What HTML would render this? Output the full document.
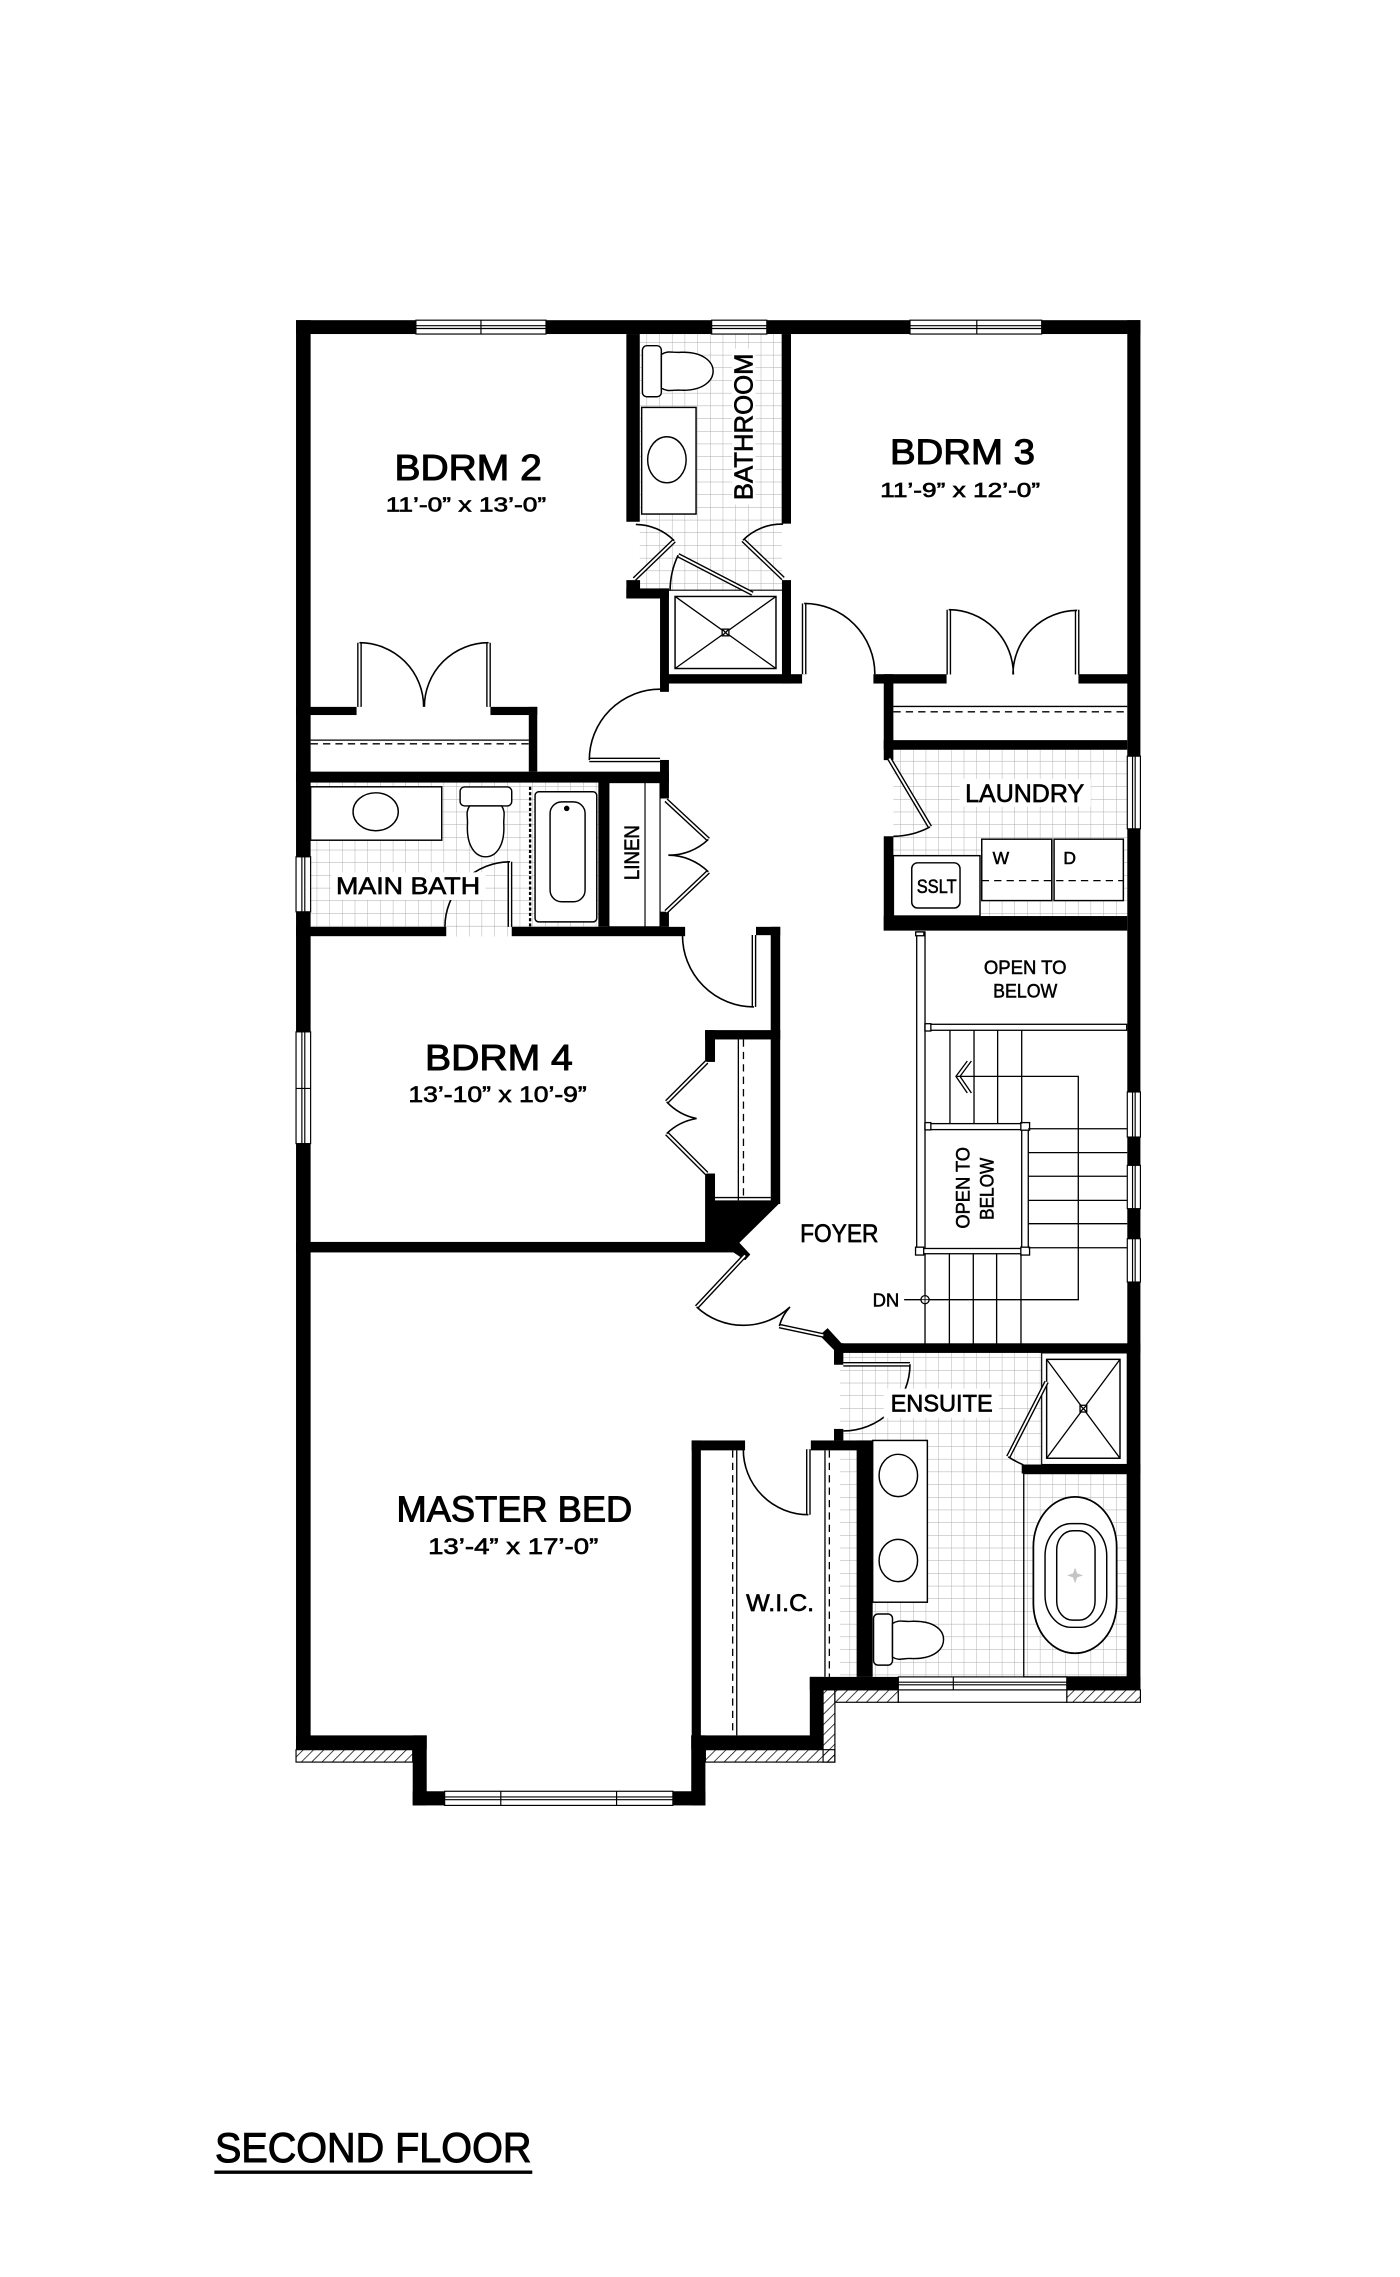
<!DOCTYPE html>
<html>
<head>
<meta charset="utf-8">
<style>
html,body{margin:0;padding:0;background:#fff;}
svg{display:block;}
text{font-family:"Liberation Sans","DejaVu Sans",sans-serif;fill:#000;stroke:#000;stroke-width:0.35;}
text.big{stroke-width:0.7;}
text.mid{stroke-width:0.45;}
</style>
</head>
<body>
<svg xmlns="http://www.w3.org/2000/svg" width="1400" height="2277" viewBox="0 0 960 1561" preserveAspectRatio="none">
<defs>
  <pattern id="tile" patternUnits="userSpaceOnUse" width="8.7" height="8.7">
    <path d="M8.7 0V8.7M0 8.7H8.7" stroke="#a9a9a9" stroke-width="0.6" fill="none"/>
  </pattern>
  <pattern id="hatch" patternUnits="userSpaceOnUse" width="5" height="5" patternTransform="rotate(45)">
    <line x1="0" y1="0" x2="0" y2="5" stroke="#000" stroke-width="1"/>
  </pattern>
</defs>
<rect width="960" height="1561" fill="#fff"/>

<!-- ===== TILE FLOORS ===== -->
<rect x="438.7" y="229" width="97.5" height="176" fill="url(#tile)"/>
<rect x="213" y="536.5" width="197.3" height="99" fill="url(#tile)"/>
<rect x="306" y="635" width="45" height="7" fill="url(#tile)"/>
<rect x="612.6" y="514" width="160.4" height="114" fill="url(#tile)"/>
<rect x="576" y="927" width="197" height="223" fill="url(#tile)"/>

<!-- ===== HATCH STRIPS ===== -->
<g stroke="#000" stroke-width="0.8">
  <rect x="203" y="1199.5" width="80" height="8.5" fill="url(#hatch)"/>
  <rect x="483.7" y="1199.5" width="88.8" height="8.5" fill="url(#hatch)"/>
  <rect x="564.4" y="1158.5" width="8.1" height="49.5" fill="url(#hatch)"/>
  <rect x="572.5" y="1158.5" width="43.5" height="8.5" fill="url(#hatch)"/>
  <rect x="731.5" y="1158.5" width="50.5" height="8.5" fill="url(#hatch)"/>
  <rect x="616" y="1158.5" width="115.5" height="8.5" fill="#fff"/>
</g>

<!-- ===== WALLS ===== -->
<g fill="#000">
  <rect x="203" y="219.5" width="579" height="9.5"/>
  <rect x="203" y="219.5" width="10" height="980"/>
  <rect x="773" y="219.5" width="9" height="939"/>
  <rect x="203" y="1189.7" width="89.6" height="9.8"/>
  <rect x="283" y="1189.7" width="9.6" height="48"/>
  <rect x="283" y="1228" width="200.7" height="9.7"/>
  <rect x="474" y="1189.7" width="9.7" height="48"/>
  <rect x="474" y="1189.7" width="90.4" height="9.8"/>
  <rect x="555.3" y="1149.6" width="9.1" height="50"/>
  <rect x="555.3" y="1149.6" width="226.7" height="8.9"/>

  <rect x="429.5" y="229" width="9.2" height="128.7"/>
  <rect x="536" y="229" width="6.4" height="130"/>
  <rect x="429.5" y="397.7" width="9.4" height="12.6"/>
  <rect x="429.5" y="403.4" width="29.2" height="6.9"/>
  <rect x="452.6" y="403.4" width="6.1" height="70.9"/>
  <rect x="536.2" y="397.7" width="6.2" height="70.9"/>
  <rect x="452.6" y="462.2" width="97.4" height="6.4"/>
  <rect x="598.9" y="462.2" width="50.2" height="6.4"/>
  <rect x="739.5" y="462.2" width="34" height="6.4"/>
  <rect x="606" y="462.2" width="6.6" height="58.9"/>
  <rect x="606" y="507.4" width="167" height="6.6"/>
  <rect x="606" y="573.3" width="6.6" height="64.6"/>
  <rect x="606" y="628" width="167" height="10"/>

  <rect x="203" y="484.6" width="41.5" height="5.6"/>
  <rect x="336.3" y="484.6" width="32.1" height="5.6"/>
  <rect x="362.6" y="484.6" width="5.8" height="44.4"/>
  <rect x="203" y="529" width="255.7" height="7.5"/>
  <rect x="452.6" y="521" width="6.1" height="26.4"/>
  <rect x="410.3" y="536" width="7.2" height="99.4"/>
  <rect x="452.6" y="625" width="6.1" height="10.4"/>
  <rect x="203" y="635.4" width="103" height="6.4"/>
  <rect x="350.9" y="635.4" width="118.9" height="6.4"/>

  <rect x="518.4" y="635.4" width="16.6" height="5.7"/>
  <rect x="528.5" y="635.4" width="6.5" height="190"/>
  <rect x="483.5" y="706.2" width="51.5" height="6.4"/>
  <rect x="483.5" y="706.2" width="6.8" height="21.8"/>
  <rect x="483.5" y="804.5" width="6.8" height="18.5"/>
  <polygon points="483.5,822.9 534.9,822.9 534.9,824.5 507,852 514.5,860 511,864 502.5,858.3 483.5,858.3"/>
  <rect x="203" y="851.4" width="304" height="7.2"/>

  <polygon points="562,915.5 567.5,910.5 577,920.9 578.3,920.9 578.3,935.6 571.9,935.6 571.9,925.5"/>
  <rect x="572" y="920.9" width="210" height="6.6"/>
  <rect x="571.9" y="979.6" width="6.4" height="7.9"/>
  <rect x="474.3" y="987.5" width="36.6" height="6.8"/>
  <rect x="556" y="987.5" width="42.4" height="6.8"/>
  <rect x="474.3" y="987.5" width="6.3" height="212"/>
  <rect x="587.4" y="987.5" width="11" height="162.1"/>
  <rect x="700.6" y="1004" width="81.4" height="6.2"/>
</g>

<!-- ===== WINDOWS ===== -->
<g fill="#fff" stroke="#000" stroke-width="0.8">
  <rect x="285.2" y="219.5" width="89.2" height="9.5"/>
  <rect x="488" y="219.5" width="37.8" height="9.5"/>
  <rect x="624" y="219.5" width="90.3" height="9.5"/>
  <rect x="203" y="587.4" width="10" height="37.7"/>
  <rect x="203" y="707.4" width="10" height="76.6"/>
  <rect x="773" y="518.4" width="9" height="49.8"/>
  <rect x="773" y="748.6" width="9" height="30.9"/>
  <rect x="773" y="798.9" width="9" height="29.7"/>
  <rect x="773" y="849.2" width="9" height="29.7"/>
  <rect x="304.9" y="1228" width="156.5" height="9.7"/>
  <rect x="616" y="1149.6" width="115.5" height="8.9"/>
</g>
<path fill="none" stroke="#000" stroke-width="0.8" d="
M285.2 223.3H374.4M285.2 225.2H374.4M329.8 219.5V229
M488 223.3H525.8M488 225.2H525.8
M624 223.3H714.3M624 225.2H714.3M669.8 219.5V229
M207 587.4V625.1M209 587.4V625.1
M207 707.4V784M209 707.4V784M203 746.2H213
M776.6 518.4V568.2M778.4 518.4V568.2
M776.6 748.6V779.5M778.4 748.6V779.5
M776.6 798.9V828.6M778.4 798.9V828.6
M776.6 849.2V878.9M778.4 849.2V878.9
M304.9 1231.9H461.4M304.9 1233.8H461.4M343.4 1228V1237.7M422.8 1228V1237.7
M616 1153.2H731.5M616 1155H731.5M653.7 1149.6V1158.5"/>

<!-- ===== CLOSET SHELVES ===== -->
<g stroke="#000" stroke-width="0.9" fill="none">
  <path d="M213 507.4H362.6M612.6 484.3H773M506.3 712.6V822.9M490.3 821H528.5M505.2 994.3V1189.7M565.7 994.3V1149.6"/>
  <path stroke-dasharray="5,3.5" d="M213 509.9H362.6M612.6 488H773M509.8 712.6V822.9M502.4 994.3V1189.7M568.7 994.3V1149.6"/>
</g>

<!-- ===== FIXTURES ===== -->
<g fill="#fff" stroke="#000" stroke-width="1">
  <rect x="440.5" y="237" width="13" height="35" rx="3"/>
  <path d="M453.5,243 C458,240 461,242 467,241.5 C482,241 489,248 489,254.5 C489,261 482,268 467,267.5 C461,267 458,269 453.5,266 Z"/>
  <rect x="440" y="279.3" width="37.3" height="73.1"/>
  <ellipse cx="457.3" cy="315.2" rx="13.2" ry="15.8"/>
  <rect x="462.9" y="408.9" width="69.2" height="49.4"/>
  <rect x="213" y="539.4" width="89.9" height="36.6"/>
  <ellipse cx="257.6" cy="556.5" rx="15.5" ry="13"/>
  <rect x="315.5" y="539.5" width="35.4" height="13" rx="3"/>
  <path d="M322,552.5 C319,557 321,560 320.5,566 C320,580 326,587.4 333,587.4 C340,587.4 346,580 345.5,566 C345,560 347,557 344,552.5 Z"/>
  <rect x="366.9" y="542.8" width="42.3" height="89.2" rx="2.5"/>
  <rect x="377.2" y="549.7" width="24" height="68.5" rx="8"/>
  <rect x="417.5" y="536.5" width="35.1" height="98.9" stroke-width="0.8"/>
  <rect x="612.6" y="586.6" width="59.4" height="41.4"/>
  <rect x="625.2" y="591.5" width="33.1" height="31" rx="4"/>
  <rect x="673.2" y="575.3" width="48" height="42.1"/>
  <rect x="722.8" y="575.3" width="47.5" height="42.1"/>
  <rect x="598.4" y="987.5" width="37.5" height="110.9"/>
  <ellipse cx="616" cy="1011.5" rx="13.2" ry="14.5"/>
  <ellipse cx="616" cy="1069.8" rx="13.2" ry="14.5"/>
  <rect x="599" y="1106.5" width="13" height="35" rx="3"/>
  <path d="M612,1113 C616.5,1110 619.5,1112 625,1111.5 C640,1111 647,1117 647,1124 C647,1131 640,1137.5 625,1137 C619.5,1136.5 616.5,1139 612,1136 Z"/>
  <rect x="714.3" y="927.5" width="58.7" height="76.5" stroke-width="0.8"/>
  <rect x="717.7" y="931.9" width="50.3" height="67.8"/>
  <rect x="702" y="1010.2" width="71" height="139.4" fill="none" stroke-width="0.9"/>
  <rect x="708.6" y="1026.2" width="57.1" height="107.2" rx="28.5" ry="34" stroke-width="1.2"/>
  <rect x="716.6" y="1044.5" width="42.3" height="71.1" rx="18" ry="22"/>
  <rect x="724.6" y="1049.4" width="26.3" height="61.3" rx="11" ry="13"/>
</g>
<g stroke="#000" stroke-width="0.9" fill="none">
  <path d="M462.9 408.9L532.1 458.3M532.1 408.9L462.9 458.3"/>
  <rect x="495.2" y="431.3" width="4.6" height="4.6" fill="#fff"/>
  <path d="M495.2 431.3l4.6 4.6M499.8 431.3l-4.6 4.6"/>
  <path d="M717.7 931.9L768 999.7M768 931.9L717.7 999.7"/>
  <rect x="740.6" y="963.4" width="4.6" height="4.6" fill="#fff"/>
  <path d="M740.6 963.4l4.6 4.6M745.2 963.4l-4.6 4.6"/>
  <path d="M442.3 536.5V635.4" stroke-width="0.8"/>
  <path d="M363.5 539.4V635.4" stroke-width="1.6" stroke-dasharray="2.2,1.4"/>
  <path d="M673.2 603.7H770.3" stroke-dasharray="5,3.5"/>
  <path d="M458.7 404.6H536.2" stroke-width="0.8"/>
</g>
<circle cx="388.6" cy="554.2" r="1.9" fill="#000"/>
<path d="M737.2 1074.5L738.6 1078.6L742.7 1080L738.6 1081.4L737.2 1085.5L735.8 1081.4L731.7 1080L735.8 1078.6Z" fill="#c4c4c4"/>

<!-- ===== STAIRS ===== -->
<g stroke="#000" stroke-width="0.9" fill="#fff">
  <rect x="628.6" y="638.9" width="5.7" height="220.6"/>
  <rect x="634.3" y="702.2" width="138.3" height="4.1"/>
  <rect x="634.3" y="770.3" width="70.8" height="4.1"/>
  <rect x="700.6" y="770.3" width="4.5" height="89.2"/>
  <rect x="628.6" y="855.9" width="76.5" height="3.6"/>
  <rect x="627.9" y="638.9" width="5.6" height="2.6"/>
  <rect x="634.3" y="701.8" width="4" height="5"/>
  <rect x="634.3" y="769.6" width="4" height="5"/>
  <rect x="700" y="769.6" width="6" height="5.2"/>
  <rect x="627.8" y="855" width="5.6" height="5.4"/>
  <rect x="700" y="855" width="6" height="5.4"/>
</g>
<g stroke="#000" stroke-width="0.9" fill="none">
  <path d="M651.4 706.3V770.3M667.9 706.3V770.3M684.1 706.3V770.3M700.6 706.3V770.3"/>
  <path d="M705.1 773.8H773M705.1 790.2H773M705.1 806.4H773M705.1 822.9H773M705.1 838.9H773M705.1 855.4H773"/>
  <path d="M634.3 859.5V921M651 859.5V921M667.4 859.5V921M683.4 859.5V921M700.1 859.5V921"/>
  <path d="M656 737.9H739.4V891H634.3"/>
  <path d="M620 891H631.5"/>
  <path d="M663.3 727.4L655.5 737.9L663.3 749.3M666.1 727.4L658.3 737.9L666.1 749.3"/>
  <circle cx="634.3" cy="891" r="2.8" fill="#fff"/>
  <path d="M631.5 891H637.1M634.3 888.2V893.8" stroke-width="0.6"/>
</g>

<!-- ===== DOOR LEAVES ===== -->
<g fill="none" stroke-linecap="butt">
  <path stroke="#000" stroke-width="3.2" d="
M435,397L462.3,370.7
M537,396.6L509.5,370.3
M516,407L465,380.6
M452.6,521L404.1,521
M551.4,462.2L551.4,413.7
M246.5,484.6L246.5,440.6
M335,484.6L335,440.6
M650.6,462.4L650.6,418
M738.6,462.4L738.6,418
M609.8,520L637.7,566.9
M456.7,548.6L485.7,575.5
M485.7,597.7L456.7,625.1
M349.7,635.4L349.7,590.8
M517,641L517,690.3
M484.6,728L457.2,755.4
M457.2,777.1L484.6,804.5
M510.9,860.6L477.7,896
M564.6,915.5L534.4,909.1
M578.3,935.3L624,935.3
M554.3,993.5L554.3,1038.4
M717.7,947.3L691.4,998.7"/>
  <path stroke="#fff" stroke-width="1.3" d="
M435,397L462.3,370.7
M537,396.6L509.5,370.3
M516,407L465,380.6
M452.6,521L404.1,521
M551.4,462.2L551.4,413.7
M246.5,484.6L246.5,440.6
M335,484.6L335,440.6
M650.6,462.4L650.6,418
M738.6,462.4L738.6,418
M609.8,520L637.7,566.9
M456.7,548.6L485.7,575.5
M485.7,597.7L456.7,625.1
M349.7,635.4L349.7,590.8
M517,641L517,690.3
M484.6,728L457.2,755.4
M457.2,777.1L484.6,804.5
M510.9,860.6L477.7,896
M564.6,915.5L534.4,909.1
M578.3,935.3L624,935.3
M554.3,993.5L554.3,1038.4
M717.7,947.3L691.4,998.7"/>
</g>

<!-- ===== DOOR SWINGS ===== -->
<path fill="none" stroke="#000" stroke-width="1.1" d="
M436,359.5A37.5,37.5 0 0 1 462.3,370.7
M537,359.3A37.5,37.5 0 0 0 509.5,370.3
M465,380.6A57,57 0 0 0 459.5,405
M404.1,521A48.5,48.5 0 0 1 452.6,472.5
M551.4,413.7A48.5,48.5 0 0 1 599.9,462.2
M246.5,440.6A44,44 0 0 1 290.5,484.6
M335,440.6A44,44 0 0 0 291,484.6
M650.6,418A44.3,44.3 0 0 1 694.9,462.4
M738.6,418.5A44,44 0 0 0 694.6,462.4
M637.7,566.9A54,54 0 0 1 612.6,573.3
M485.7,575.5A39,39 0 0 1 458.3,586.3
M458.3,586.3A39,39 0 0 1 485.7,597.7
M349.7,590.8A44.6,44.6 0 0 0 305.1,635.4
M517,690.3A49,49 0 0 1 468,641
M457.2,755.4A38.8,38.8 0 0 0 477.7,766.8
M477.7,766.8A38.5,38.5 0 0 0 457.2,777.1
M477.7,896A47,47 0 0 0 541.7,896
M534.4,909.1A30.5,30.5 0 0 1 541.7,896
M624,935.3A45.7,45.7 0 0 1 578.3,981
M554.3,1038.4A44.6,44.6 0 0 1 509.7,993.5
M691.4,998.7A58.5,58.5 0 0 0 701.7,1004.2"/>

<!-- ===== LABEL BACKGROUNDS ===== -->
<g fill="#fff">
  <rect x="502" y="239" width="16" height="107"/>
  <rect x="227" y="598" width="106" height="19"/>
  <rect x="658" y="534" width="90" height="19"/>
  <rect x="606" y="952" width="79" height="20"/>
</g>

<!-- ===== TEXT ===== -->
<text class="big" x="321" y="329.1" font-size="24.5" text-anchor="middle" textLength="101" lengthAdjust="spacingAndGlyphs">BDRM 2</text>
<text class="mid" x="319.5" y="350.8" font-size="14.2" text-anchor="middle" textLength="110" lengthAdjust="spacingAndGlyphs">11’-0” x 13’-0”</text>
<text class="big" x="660" y="318" font-size="24" text-anchor="middle" textLength="99.5" lengthAdjust="spacingAndGlyphs">BDRM 3</text>
<text class="mid" x="658.4" y="340.7" font-size="14.2" text-anchor="middle" textLength="109.7" lengthAdjust="spacingAndGlyphs">11’-9” x 12’-0”</text>
<text class="big" x="342.1" y="733.7" font-size="25" text-anchor="middle" textLength="101.3" lengthAdjust="spacingAndGlyphs">BDRM 4</text>
<text class="mid" x="341.2" y="755.4" font-size="15.5" text-anchor="middle" textLength="122.3" lengthAdjust="spacingAndGlyphs">13’-10” x 10’-9”</text>
<text class="big" x="352.7" y="1043" font-size="25" text-anchor="middle" textLength="161.6" lengthAdjust="spacingAndGlyphs">MASTER BED</text>
<text class="mid" x="351.9" y="1065.4" font-size="15.5" text-anchor="middle" textLength="116.7" lengthAdjust="spacingAndGlyphs">13’-4” x 17’-0”</text>

<text class="mid" transform="translate(509.5,292.6) rotate(-90)" x="0" y="6.5" font-size="17.5" text-anchor="middle" textLength="100.5" lengthAdjust="spacingAndGlyphs">BATHROOM</text>
<text transform="translate(433,584.5) rotate(-90)" x="0" y="5.2" font-size="14.4" text-anchor="middle" textLength="37.7" lengthAdjust="spacingAndGlyphs">LINEN</text>
<text class="mid" x="279.8" y="613" font-size="16.3" text-anchor="middle" textLength="98.8" lengthAdjust="spacingAndGlyphs">MAIN BATH</text>
<text class="mid" x="702.6" y="549.7" font-size="17.2" text-anchor="middle" textLength="81.6" lengthAdjust="spacingAndGlyphs">LAUNDRY</text>
<text x="642.3" y="612.2" font-size="13.5" text-anchor="middle" textLength="27.4" lengthAdjust="spacingAndGlyphs">SSLT</text>
<text x="686.3" y="592.4" font-size="12" text-anchor="middle">W</text>
<text x="733.5" y="592.4" font-size="12" text-anchor="middle">D</text>
<text x="703" y="667.9" font-size="13.2" text-anchor="middle" textLength="56.7" lengthAdjust="spacingAndGlyphs">OPEN TO</text>
<text x="703" y="683.9" font-size="13.2" text-anchor="middle" textLength="44" lengthAdjust="spacingAndGlyphs">BELOW</text>
<text transform="translate(660,814.3) rotate(-90)" x="0" y="4.8" font-size="13.2" text-anchor="middle" textLength="56" lengthAdjust="spacingAndGlyphs">OPEN TO</text>
<text transform="translate(676.6,815) rotate(-90)" x="0" y="4.6" font-size="13.2" text-anchor="middle" textLength="42.6" lengthAdjust="spacingAndGlyphs">BELOW</text>
<text class="mid" x="575.5" y="851.3" font-size="16.9" text-anchor="middle" textLength="53.7" lengthAdjust="spacingAndGlyphs">FOYER</text>
<text x="607.5" y="895.6" font-size="12.6" text-anchor="middle" textLength="18.3" lengthAdjust="spacingAndGlyphs">DN</text>
<text class="mid" x="645.7" y="967.8" font-size="16.5" text-anchor="middle" textLength="70" lengthAdjust="spacingAndGlyphs">ENSUITE</text>
<text class="mid" x="534.9" y="1104.5" font-size="16.5" text-anchor="middle" textLength="46.6" lengthAdjust="spacingAndGlyphs">W.I.C.</text>

<text class="big" x="147.4" y="1482.3" font-size="28.3" textLength="217" lengthAdjust="spacingAndGlyphs">SECOND FLOOR</text>
<rect x="147" y="1488" width="218" height="2.3" fill="#000"/>
</svg>
</body>
</html>
